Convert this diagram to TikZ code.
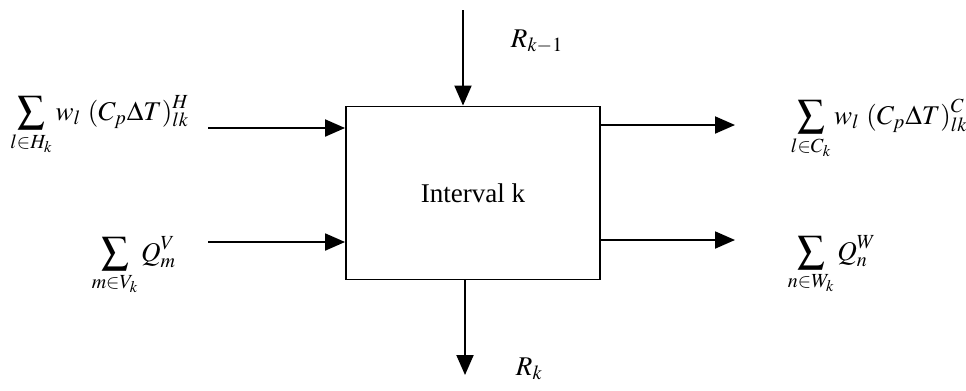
\documentclass[tikz,border=0pt]{standalone}
\usepackage{mathptmx}
\usepackage{fontspec}
\setmainfont{Liberation Serif}
\usetikzlibrary{arrows.meta, positioning}
\tikzset{
  every picture/.style={line width=1.1pt},
  flow/.style={-{Triangle[length=0.4cm, width=0.34cm]}},
  lbl/.style={inner sep=0pt, font=\fontsize{15.4}{18}\selectfont},
  unitbox/.style={draw, minimum width=5.08cm, minimum height=3.46cm, font=\fontsize{15.4}{18}\selectfont},
}
\begin{document}
\begin{tikzpicture}[x=0.02cm, y=-0.02cm]
  \useasboundingbox (0,0) rectangle (966,390);
  \node[unitbox] (box) at (473,193) {Interval k};
  % tails of the streams
  \coordinate (hin) at (208,128);
  \coordinate (vin) at (208,242);
  \coordinate (cout) at (735,125);
  \coordinate (wout) at (735,240);
  \coordinate (rin) at (463,10);
  \coordinate (rout) at (465,375);
  \draw[flow] (hin) -- (hin -| box.west);
  \draw[flow] (vin) -- (vin -| box.west);
  \draw[flow] (cout -| box.east) -- (cout);
  \draw[flow] (wout -| box.east) -- (wout);
  \draw[flow] (rin) -- (rin |- box.north);
  \draw[flow] (rout |- box.south) -- (rout);
  % labels
  \node[lbl, anchor=base east] (hlbl) at (190,120) {$\displaystyle\sum_{l\in H_k} w_l\ (C_p\Delta T)^H_{lk}$};
  \node[lbl, anchor=base east] (vlbl) at (177,261) {$\displaystyle\sum_{m\in V_k} Q^V_m$};
  \node[lbl, anchor=base west] (clbl) at (790,124) {$\displaystyle\sum_{l\in C_k} w_l\ (C_p\Delta T)^C_{lk}$};
  \node[lbl, anchor=base west] (wlbl) at (787,260) {$\displaystyle\sum_{n\in W_k} Q^W_n$};
  \node[lbl, anchor=base west] (rkm) at (510,47) {$R_{k-1}$};
  \node[lbl, anchor=base west] (rk) at (515,375) {$R_k$};
\end{tikzpicture}
\end{document}
